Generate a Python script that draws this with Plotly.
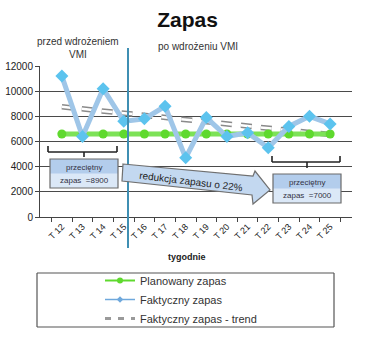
import plotly.graph_objects as go

# ---- data ----
weeks = ["T 12", "T 13", "T 14", "T 15", "T 16", "T 17", "T 18",
         "T 19", "T 20", "T 21", "T 22", "T 23", "T 24", "T 25"]
planowany = [6600] * 14
faktyczny = [11200, 6400, 10200, 7600, 7800, 8800, 4700,
             7900, 6400, 6700, 5500, 7200, 8000, 7400]
trend = [8760, 8590, 8420, 8250, 8080, 7910, 7740,
         7570, 7400, 7230, 7060, 6890, 6720, 6550]
y_ticks = [0, 2000, 4000, 6000, 8000, 10000, 12000]
y_tick_labels = [str(v) for v in y_ticks]

W, H = 375, 357
L, R, T, B = 40, 23, 66, 140
PW, PH = W - L - R, H - T - B
FONT = "Liberation Sans, Arial, sans-serif"


def P(px, py):
    """pixel -> paper coords"""
    return (px - L) / PW, (H - B - py) / PH


fig = go.Figure()

# trend (outlined dashes)
fig.add_trace(go.Scatter(x=weeks, y=trend, mode="lines", showlegend=False,
                         line=dict(color="#8a8a8a", width=5.5, dash="11px,9px")))
fig.add_trace(go.Scatter(x=weeks, y=trend, mode="lines", showlegend=False,
                         line=dict(color="#ffffff", width=2.5, dash="11px,9px")))
# planned
fig.add_trace(go.Scatter(x=weeks, y=planowany, mode="lines+markers", showlegend=False,
                         line=dict(color="#7de257", width=5),
                         marker=dict(symbol="circle", size=9, color="#5fd92e")))
# actual
fig.add_trace(go.Scatter(x=weeks, y=faktyczny, mode="lines+markers", showlegend=False,
                         line=dict(color="#9fc6e8", width=5),
                         marker=dict(symbol="diamond", size=10, color="#5cc3ee")))

# legend-only traces
fig.add_trace(go.Scatter(x=[None], y=[None], mode="lines+markers", name="Planowany zapas",
                         line=dict(color="#5fd92e", width=2),
                         marker=dict(symbol="circle", size=6, color="#5fd92e")))
fig.add_trace(go.Scatter(x=[None], y=[None], mode="lines+markers", name="Faktyczny zapas",
                         line=dict(color="#6fa8dc", width=1.5),
                         marker=dict(symbol="diamond", size=5, color="#6fa8dc")))
fig.add_trace(go.Scatter(x=[None], y=[None], mode="lines", name="Faktyczny zapas - trend",
                         line=dict(color="#9a9a9a", width=3, dash="6px,7px")))

shapes = []


def seg(xa, ya, xb, yb, color, width):
    p = P(xa, ya); q = P(xb, yb)
    return dict(type="line", xref="paper", yref="paper", x0=p[0], y0=p[1], x1=q[0], y1=q[1],
                line=dict(color=color, width=width))


# divider line
shapes.append(seg(128, 48, 128, 248, "#3f8fb3", 2))


def bracket(xa, xb, yl, ytop, xc, ybot):
    return [seg(xa, yl, xb, yl, "#222", 1.6),
            seg(xa, yl, xa, ytop, "#222", 1.6),
            seg(xb, yl, xb, ytop, "#222", 1.6),
            seg(xc, yl, xc, ybot, "#222", 1.6)]


shapes += bracket(48, 117, 152, 146, 84, 157)
shapes += bracket(272, 340, 162, 156, 307, 168)


def box(xa, ya, xb, yb):
    a = P(xa, ya); b = P(xb, yb); m = P(xa, (ya + yb) / 2)
    return [
        dict(type="rect", xref="paper", yref="paper", x0=a[0], x1=b[0], y0=b[1], y1=a[1],
             fillcolor="#b3cdec", line=dict(width=0)),
        dict(type="rect", xref="paper", yref="paper", x0=a[0], x1=b[0], y0=b[1], y1=m[1],
             fillcolor="#dbe8f7", line=dict(width=0)),
        dict(type="rect", xref="paper", yref="paper", x0=a[0], x1=b[0], y0=b[1], y1=a[1],
             fillcolor="rgba(0,0,0,0)", line=dict(color="#6b6b6b", width=1.2)),
    ]


shapes += box(50, 159, 118, 188)
shapes += box(273, 174, 341, 203)

# arrow
pts = [(123, 164), (253, 176), (255, 171), (270, 190), (253, 204), (252, 195), (122, 181)]
pp = [P(*p) for p in pts]
path = "M " + " L ".join(f"{x:.4f},{y:.4f}" for x, y in pp) + " Z"
shapes.append(dict(type="path", xref="paper", yref="paper", path=path,
                   fillcolor="#c3d8f0", line=dict(color="#707070", width=1.2)))

# legend frame
shapes += [seg(37, 273, 334, 273, "#555", 1.2), seg(37, 327, 334, 327, "#555", 1.2),
           seg(37, 273, 37, 327, "#555", 1.2), seg(334, 273, 334, 327, "#555", 1.2)]

annotations = []


def ann(text, px, py, size=9, color="#333", bold=False, angle=0):
    x, y = P(px, py)
    annotations.append(dict(text=f"<b>{text}</b>" if bold else text, x=x, y=y, xref="paper", yref="paper",
                            showarrow=False, xanchor="center", yanchor="middle", textangle=angle,
                            font=dict(family=FONT, size=size, color=color)))


ann("przed wdrożeniem", 78, 41, size=10)
ann("VMI", 78, 54, size=10)
ann("po wdrożeniu VMI", 198, 46, size=10)
ann("przeciętny", 84, 167, size=8, color="#334")
ann("zapas  =8900", 84, 180, size=8, color="#334")
ann("przeciętny", 307, 182, size=8, color="#334")
ann("zapas  =7000", 307, 195, size=8, color="#334")
ann("redukcja zapasu o 22%", 191, 181, size=10, color="#222", angle=7)
ann("tygodnie", 187, 257, size=9, color="#222", bold=True)

fig.update_layout(
    width=W, height=H,
    margin=dict(l=L, r=R, t=T, b=B, autoexpand=False),
    paper_bgcolor="white", plot_bgcolor="white",
    font=dict(family=FONT, color="#222"),
    title=dict(text="<b>Zapas</b>", x=0.5, xanchor="center", y=1 - 20 / H, yanchor="middle",
               font=dict(family=FONT, size=21, color="#111")),
    xaxis=dict(type="category", showgrid=False, showline=True, linecolor="#444", linewidth=1,
               ticks="outside", tickson="boundaries", ticklen=4, tickcolor="#444", automargin=False,
               tickangle=-45, tickfont=dict(size=9, color="#222"), zeroline=False),
    yaxis=dict(range=[0, 12000], tickvals=y_ticks, ticktext=y_tick_labels, showgrid=True,
               gridcolor="#4a4a4a", gridwidth=1, automargin=False,
               showline=True, linecolor="#444", linewidth=1, ticks="outside", ticklen=4, tickcolor="#444",
               tickfont=dict(size=10, color="#222"), zeroline=False),
    legend=dict(xref="container", yref="container", x=100 / W, y=1 - 266 / H,
                xanchor="left", yanchor="top", bgcolor="rgba(0,0,0,0)",
                font=dict(family=FONT, size=11, color="#333"), tracegroupgap=0,
                itemwidth=30),
    shapes=shapes,
    annotations=annotations,
    showlegend=True,
)

fig.write_html("out.html", post_script="document.body.style.margin='0';",
               config={"displayModeBar": False})
